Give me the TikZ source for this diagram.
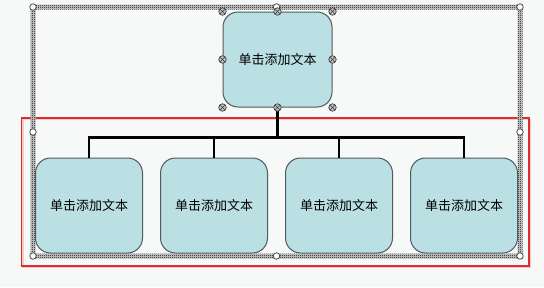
\documentclass[tikz,border=0pt]{standalone}
\usepackage{fontspec}
\newfontfamily\cjk{Noto Sans CJK SC}
\usepackage{xcolor}
\usetikzlibrary{positioning, patterns}

\definecolor{boxfill}{RGB}{187,224,227}
\definecolor{boxline}{RGB}{80,90,95}
\definecolor{selred}{RGB}{222,45,45}
\definecolor{canvas}{RGB}{247,248,248}

% dense dot texture of the selection frame
\pgfdeclarepatternformonly{seldots}{\pgfqpoint{0pt}{0pt}}{\pgfqpoint{2pt}{2pt}}{\pgfqpoint{2pt}{2pt}}{%
  \pgfpathrectangle{\pgfqpoint{0pt}{0pt}}{\pgfqpoint{1pt}{1pt}}%
  \pgfpathrectangle{\pgfqpoint{1pt}{1pt}}{\pgfqpoint{1pt}{1pt}}%
  \pgfusepath{fill}}

\begin{document}
\begin{tikzpicture}[
    x=1pt, y=-1pt,
    node distance=17pt,
    box/.style={rectangle, draw=boxline, line width=1pt, rounded corners=15pt, fill=boxfill, minimum width=107pt, minimum height=95pt, inner sep=0pt, font=\cjk\fontsize{13}{15}\selectfont},
    conn/.style={line width=2.2pt, black},
    grip/.style={circle, draw=black!75, fill=gray!50, line width=0.7pt, minimum size=7.5pt, inner sep=0pt,
        path picture={\draw[black!75, line width=0.6pt] (path picture bounding box.north west) -- (path picture bounding box.south east) (path picture bounding box.north east) -- (path picture bounding box.south west);}},
    sizer/.style={circle, draw=gray!60!black, fill=white, line width=0.8pt, minimum size=6.5pt, inner sep=0pt}
]
    \fill[canvas] (0,0) rectangle (544,287);
    \useasboundingbox (0,0) rectangle (544,287);

    % red selection box with its shadow
    \draw[selred!25, line width=1.8pt] (23,119.5) rectangle (530.5,267.5);
    \draw[selred, line width=1.1pt] (21.5,118) rectangle (529,266);

    % frame of the whole graphic
    \fill[gray!35, even odd rule] (30.5,4.5) rectangle (522.5,258.5) (35.5,9.5) rectangle (517.5,253.5);
    \fill[pattern=seldots, pattern color=black, even odd rule] (30.5,4.5) rectangle (522.5,258.5) (35.5,9.5) rectangle (517.5,253.5);

    \node[box, minimum width=109pt] (root) at (277.5,59.5) {单击添加文本};

    \node[box, below left=50pt and 9.5pt of root.south] (c2) {单击添加文本};
    \node[box, left=of c2] (c1) {单击添加文本};
    \node[box, right=of c2] (c3) {单击添加文本};
    \node[box, right=of c3] (c4) {单击添加文本};

    \coordinate[below=30pt of root.south] (bus);
    \draw[conn] (root) -- (bus);
    \foreach \c in {c1,c2,c3,c4}
        \draw[conn] (\c.north) |- (bus);

    \foreach \x/\y [count=\i] in {33/7, 276.5/7, 520/7, 33/132, 520/132, 33/256, 276.5/256, 520/256}
        \node[sizer] (s\i) at (\x,\y) {};

    \foreach \a/\n in {north west/nw, north/n, north east/ne, west/w, east/e, south west/sw, south/s, south east/se}
        \node[grip] (g-\n) at (root.\a) {};
\end{tikzpicture}
\end{document}
